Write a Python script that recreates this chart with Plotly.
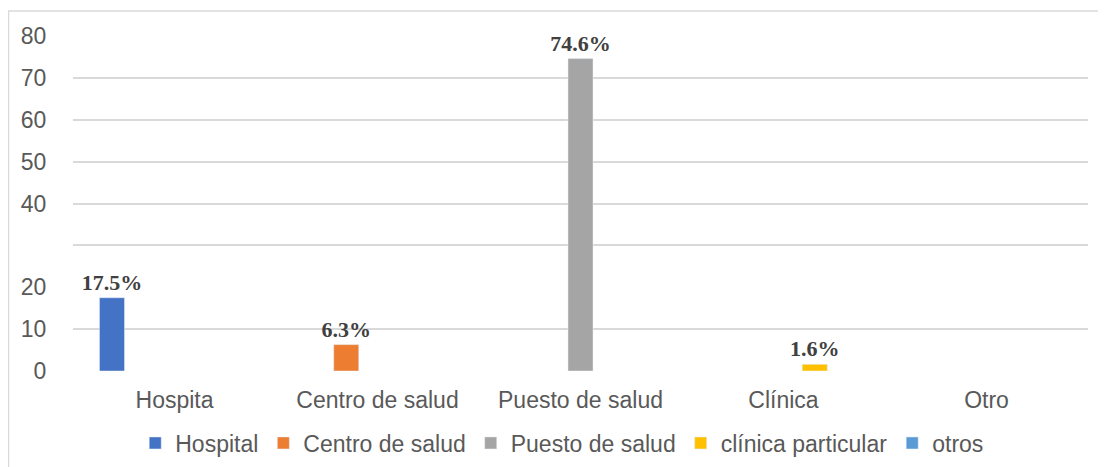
import plotly.graph_objects as go

categories = ["Hospita", "Centro de salud", "Puesto de salud", "Clínica", "Otro"]
series_names = ["Hospital", "Centro de salud", "Puesto de salud", "clínica particular", "otros"]
hospital = [17.5, None, None, None, None]
centro = [None, 6.3, None, None, None]
puesto = [None, None, 74.6, None, None]
clinica = [None, None, None, 1.6, None]
otros = [None, None, None, None, None]
series_values = [hospital, centro, puesto, clinica, otros]
colors = ["#4472C4", "#ED7D31", "#A5A5A5", "#FFC000", "#5B9BD5"]

tick_vals = [0, 10, 20, 40, 50, 60, 70, 80]
grid_vals = [0, 10, 30, 40, 50, 60, 70]

fig = go.Figure()
for name, vals, col in zip(series_names, series_values, colors):
    fig.add_trace(go.Bar(
        x=categories, y=vals, name=name, marker_color=col,
        texttemplate="%{y}%", textposition="outside", cliponaxis=False,
        constraintext="none",
        textfont=dict(family="Liberation Serif", size=22, color="#404040", weight="bold"),
    ))

# invisible trace carrying the gridline axis
fig.add_trace(go.Scatter(x=categories, y=[None]*5, yaxis="y2", showlegend=False, hoverinfo="skip"))

# page body has an 8px margin, so the figure is offset by 8px
W, H = 1098, 459
L, R, T, B = 65, 18, 28, 96
pw, ph = W - L - R, H - T - B

fig.update_layout(
    width=W, height=H,
    margin=dict(l=L, r=R, t=T, b=B, autoexpand=False),
    paper_bgcolor="white", plot_bgcolor="white",
    barmode="group", bargap=0.23, bargroupgap=0.2,
    font=dict(family="Liberation Sans", color="#595959"),
    xaxis=dict(showgrid=False, showline=False, zeroline=False, automargin=False,
               ticks="outside", ticklen=8, tickcolor="rgba(0,0,0,0)",
               tickfont=dict(size=23, color="#595959")),
    yaxis=dict(range=[0, 80], tickvals=tick_vals, showgrid=False, zeroline=False,
               automargin=False,
               showline=False, ticks="outside", ticklen=21, tickcolor="rgba(0,0,0,0)",
               tickfont=dict(size=23, color="#595959")),
    yaxis2=dict(range=[0, 80], overlaying="y", tickvals=grid_vals, showgrid=True,
                gridcolor="#D9D9D9", gridwidth=1.5, showticklabels=False,
                automargin=False,
                zeroline=False, showline=False, side="left"),
    legend=dict(orientation="h", x=0.482, xanchor="center", y=-72 / ph,
                yanchor="middle", font=dict(size=23, color="#595959"),
                itemwidth=30, traceorder="normal"),
    showlegend=True,
    shapes=[dict(type="rect", xref="paper", yref="paper",
                 x0=(0.5 - L) / pw, x1=1.2, y0=-0.5, y1=(T + ph - 3) / ph,
                 line=dict(color="#D9D9D9", width=1.5), fillcolor="rgba(0,0,0,0)",
                 layer="below")],
)

fig.write_html("out.html")
